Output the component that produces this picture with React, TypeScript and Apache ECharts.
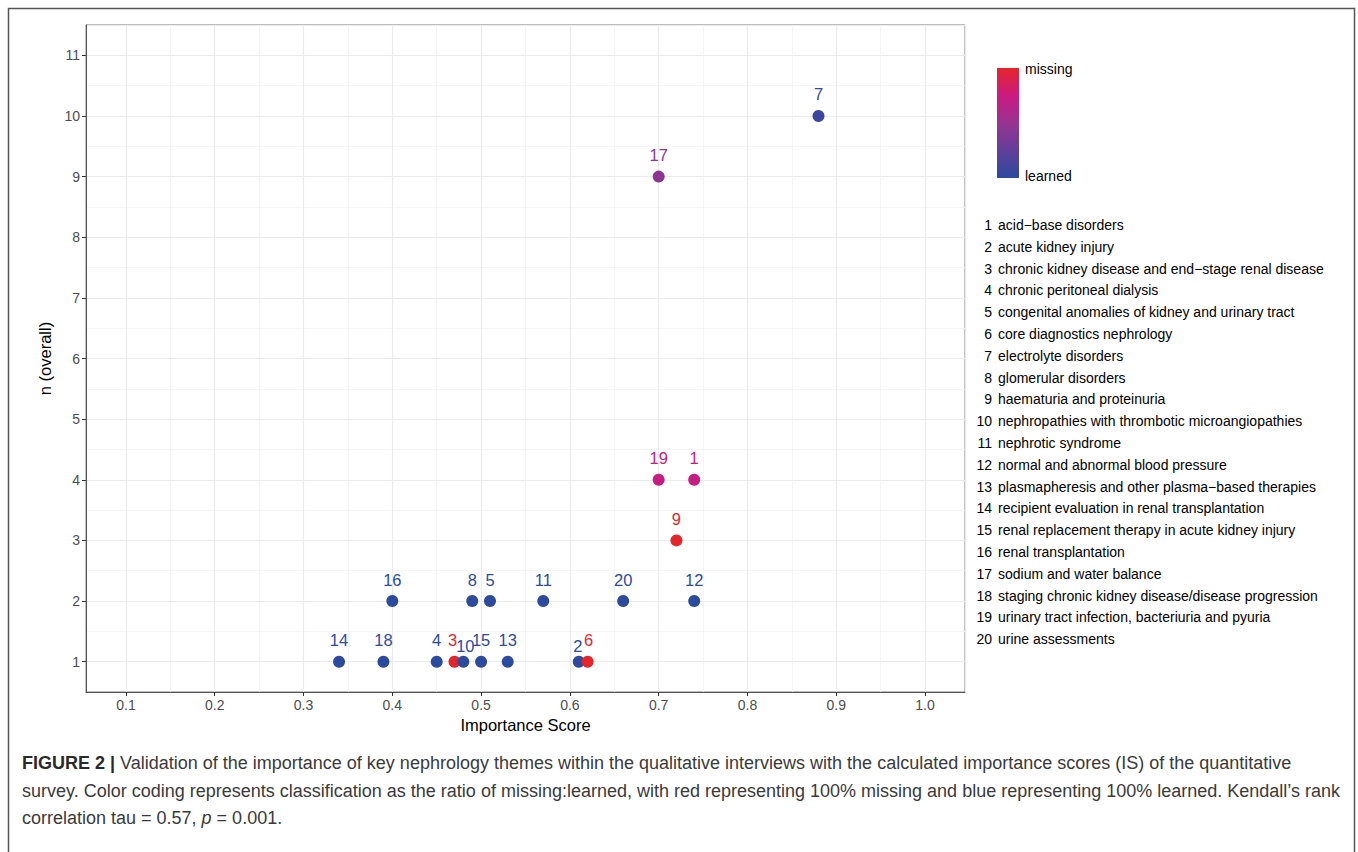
import React, { useEffect, useRef } from "react";
import * as echarts from "echarts";

// ---- data ----
const themeIds = [1, 2, 3, 4, 5, 6, 7, 8, 9, 10, 11, 12, 13, 14, 15, 16, 17, 18, 19, 20];
const themeNames = [
  "acid\u2212base disorders",
  "acute kidney injury",
  "chronic kidney disease and end\u2212stage renal disease",
  "chronic peritoneal dialysis",
  "congenital anomalies of kidney and urinary tract",
  "core diagnostics nephrology",
  "electrolyte disorders",
  "glomerular disorders",
  "haematuria and proteinuria",
  "nephropathies with thrombotic microangiopathies",
  "nephrotic syndrome",
  "normal and abnormal blood pressure",
  "plasmapheresis and other plasma\u2212based therapies",
  "recipient evaluation in renal transplantation",
  "renal replacement therapy in acute kidney injury",
  "renal transplantation",
  "sodium and water balance",
  "staging chronic kidney disease/disease progression",
  "urinary tract infection, bacteriuria and pyuria",
  "urine assessments",
];
const importanceScore = [0.74, 0.61, 0.47, 0.45, 0.51, 0.62, 0.88, 0.49, 0.72, 0.48, 0.57, 0.74, 0.53, 0.34, 0.5, 0.4, 0.7, 0.39, 0.7, 0.66];
const nOverall = [4, 1, 1, 1, 2, 1, 10, 2, 3, 1, 2, 2, 1, 1, 1, 2, 9, 1, 4, 2];
const missingRatio = [0.72, 0, 1, 0, 0, 1, 0.08, 0, 1, 0, 0, 0, 0, 0, 0, 0, 0.45, 0, 0.72, 0];
const colorLegendLabels = ["missing", "learned"];
const captionLines = [
  "{b|FIGURE 2 |} Validation of the importance of key nephrology themes within the qualitative interviews with the calculated importance scores (IS) of the quantitative",
  "survey. Color coding represents classification as the ratio of missing:learned, with red representing 100% missing and blue representing 100% learned. Kendall\u2019s rank",
  "correlation tau = 0.57, {i|p} = 0.001.",
];

// ---- styling ----
const gradientStops = ["#2C4A9E", "#613F99", "#993393", "#CB1A80", "#E6252A"];
const labelNudge: Record<number, [number, number]> = { 10: [2, 6], 3: [-2, 0], 2: [-1, 6], 6: [1, 0] };
const FONT = "Liberation Sans, Arial, Helvetica, sans-serif";

function hexToRgb(h: string) {
  const v = parseInt(h.slice(1), 16);
  return [(v >> 16) & 255, (v >> 8) & 255, v & 255];
}
function colorFor(r: number) {
  const n = gradientStops.length - 1;
  const p = Math.max(0, Math.min(1, r)) * n;
  const i = Math.min(n - 1, Math.floor(p));
  const t = p - i;
  const a = hexToRgb(gradientStops[i]);
  const b = hexToRgb(gradientStops[i + 1]);
  const c = a.map((v, k) => Math.round(v + (b[k] - v) * t));
  return `rgb(${c[0]},${c[1]},${c[2]})`;
}

export default function App() {
  const ref = useRef<HTMLDivElement>(null);
  useEffect(() => {
    if (!ref.current) return;
    const chart = echarts.init(ref.current, undefined, { renderer: "svg" });

    const points = themeIds.map((id, i) => {
      const col = colorFor(missingRatio[i]);
      const nudge = labelNudge[id] || [0, 0];
      return {
        value: [importanceScore[i], nOverall[i], missingRatio[i]],
        itemStyle: { color: col, opacity: 1 },
        label: { color: col, offset: nudge },
        name: String(id),
      };
    });

    const legendList: any[] = themeIds.map((id, i) => ({
      type: "group",
      x: 0,
      y: i * 21.8,
      children: [
        { type: "text", x: 992, y: 0, style: { text: String(id), fill: "#000", font: `14px ${FONT}`, align: "right", verticalAlign: "middle" } },
        { type: "text", x: 998, y: 0, style: { text: themeNames[i], fill: "#000", font: `14px ${FONT}`, align: "left", verticalAlign: "middle" } },
      ],
    }));

    const gradientFill = {
      type: "linear",
      x: 0,
      y: 0,
      x2: 0,
      y2: 1,
      colorStops: gradientStops
        .slice()
        .reverse()
        .map((c, k) => ({ offset: k / (gradientStops.length - 1), color: c })),
    };

    chart.setOption({
      animation: false,
      backgroundColor: "#fff",
      grid: { left: 86, top: 25, right: 393, bottom: 160, show: true, borderColor: "#7a7a7a", borderWidth: 1 },
      xAxis: {
        type: "value",
        min: 0.055,
        max: 1.045,
        splitNumber: 10,
        name: "Importance Score",
        nameLocation: "middle",
        nameGap: 24,
        nameTextStyle: { color: "#000", fontSize: 16.5, fontFamily: FONT },
        axisLine: { show: true, lineStyle: { color: "#555", width: 1 } },
        axisTick: { show: true, length: 4, lineStyle: { color: "#333" } },
        axisLabel: { showMinLabel: false, showMaxLabel: false, color: "#4D4D4D", fontSize: 14, fontFamily: FONT, margin: 6, formatter: (v: number) => v.toFixed(1) },
        splitLine: { show: true, lineStyle: { color: "#EBEBEB", width: 1.2 } },
        minorTick: { show: false, splitNumber: 2 },
        minorSplitLine: { show: true, lineStyle: { color: "#F3F3F3", width: 0.8 } },
      },
      yAxis: {
        type: "value",
        min: 0.5,
        max: 11.5,
        splitNumber: 11,
        name: "n (overall)",
        nameLocation: "middle",
        nameGap: 31,
        nameTextStyle: { color: "#000", fontSize: 16.5, fontFamily: FONT },
        axisLine: { show: true, lineStyle: { color: "#555", width: 1 } },
        axisTick: { show: true, length: 4, lineStyle: { color: "#333" } },
        axisLabel: { showMinLabel: false, showMaxLabel: false, color: "#4D4D4D", fontSize: 14, fontFamily: FONT, margin: 6 },
        splitLine: { show: true, lineStyle: { color: "#EBEBEB", width: 1.2 } },
        minorTick: { show: false, splitNumber: 2 },
        minorSplitLine: { show: true, lineStyle: { color: "#F3F3F3", width: 0.8 } },
      },
      series: [
        {
          type: "scatter",
          symbolSize: 12,
          itemStyle: { opacity: 1 },
          data: points,
          label: {
            show: true,
            position: "top",
            distance: 7,
            fontSize: 16.5,
            fontFamily: FONT,
            formatter: (p: any) => p.name,
          },
        },
      ],
      graphic: [
        { type: "rect", shape: { x: 8.5, y: 8.5, width: 1346, height: 900 }, style: { fill: "none", stroke: "#555", lineWidth: 1.5 }, silent: true },
        { type: "rect", shape: { x: 997, y: 68, width: 22, height: 110 }, style: { fill: gradientFill as any } },
        { type: "text", x: 1025, y: 69, style: { text: colorLegendLabels[0], fill: "#000", font: `14px ${FONT}`, verticalAlign: "middle" } },
        { type: "text", x: 1025, y: 176, style: { text: colorLegendLabels[1], fill: "#000", font: `14px ${FONT}`, verticalAlign: "middle" } },
        { type: "group", x: 0, y: 225, children: legendList },
        ...captionLines.map((line, k) => ({
          type: "text",
          x: 22,
          y: 763 + k * 27.5,
          style: {
            text: line,
            fill: "#3a3a3a",
            font: `18px ${FONT}`,
            verticalAlign: "middle",
            rich: {
              b: { fontWeight: "bold", fontSize: 18, fontFamily: FONT, fill: "#2a2a2a" },
              i: { fontStyle: "italic", fontSize: 18, fontFamily: FONT, fill: "#3a3a3a" },
            },
          },
        })),
      ],
    });
    return () => chart.dispose();
  }, []);
  return <div ref={ref} style={{ position: "absolute", left: 0, top: 0, width: 1358, height: 852 }} />;
}
